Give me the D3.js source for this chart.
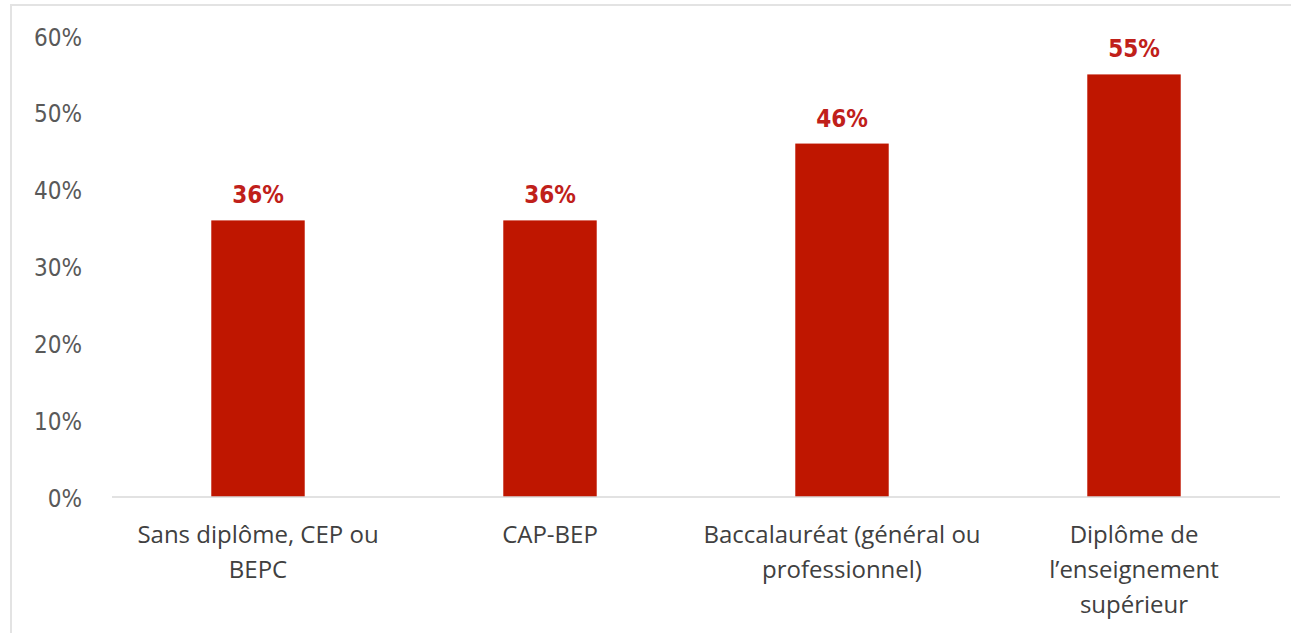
<!DOCTYPE html>
<html>
<head>
<meta charset="utf-8">
<script src="https://cdn.jsdelivr.net/npm/d3@7"></script>
<style>
  html, body { margin: 0; padding: 0; background: #fff; }
  svg { display: block; }
</style>
</head>
<body>
<svg id="chart" width="1291" height="633"></svg>
<script>
const categories = [
  "Sans diplôme, CEP ou\nBEPC",
  "CAP-BEP",
  "Baccalauréat (général ou\nprofessionnel)",
  "Diplôme de\nl’enseignement\nsupérieur"
];
const values = [36, 36, 46, 55];
const yTicks = [0, 10, 20, 30, 40, 50, 60];

const svg = d3.select("#chart");
const W = 1291, H = 633;
const margin = { left: 112, right: 11, top: 36, bottom: 136 };

// frame
svg.append("path")
  .attr("d", `M11,${H} V5 H${W}`)
  .attr("fill", "none")
  .attr("stroke", "#e3e3e3")
  .attr("stroke-width", 2);

const x = d3.scaleBand()
  .domain(categories)
  .range([margin.left, W - margin.right])
  .paddingInner(0.68)
  .paddingOuter(0.34);

const y = d3.scaleLinear()
  .domain([0, 60])
  .range([H - margin.bottom, margin.top]);

// y axis labels
const yAxis = d3.axisLeft(y)
  .tickValues(yTicks)
  .tickFormat(d => d + "%")
  .tickSize(0)
  .tickPadding(0);
const gy = svg.append("g")
  .attr("transform", "translate(82,0)")
  .call(yAxis);
gy.select(".domain").remove();
gy.selectAll("text")
  .attr("fill", "#595959")
  .attr("font-family", "'DejaVu Sans Condensed', 'DejaVu Sans', sans-serif")
  .attr("font-size", 24)
  .attr("dy", "0.38em");

// bars
svg.append("g").selectAll("rect")
  .data(values)
  .join("rect")
  .attr("x", (d, i) => x(categories[i]))
  .attr("y", d => y(d))
  .attr("width", x.bandwidth())
  .attr("height", d => y(0) - y(d))
  .attr("fill", "#bf1600");

// baseline
svg.append("line")
  .attr("x1", margin.left)
  .attr("x2", W - margin.right)
  .attr("y1", y(0))
  .attr("y2", y(0))
  .attr("stroke", "#d9d9d9")
  .attr("stroke-width", 1.5);

// value labels
svg.append("g").selectAll("text")
  .data(values)
  .join("text")
  .attr("x", (d, i) => x(categories[i]) + x.bandwidth() / 2)
  .attr("y", d => y(d) - 17)
  .attr("text-anchor", "middle")
  .attr("fill", "#c0201a")
  .attr("font-family", "'DejaVu Sans Condensed', 'DejaVu Sans', sans-serif")
  .attr("font-weight", "bold")
  .attr("font-size", 24)
  .text(d => d + "%");

// category labels
const xAxis = d3.axisBottom(x).tickSize(0).tickFormat("");
const gx = svg.append("g")
  .attr("transform", `translate(0,${y(0)})`)
  .call(xAxis);
gx.select(".domain").remove();
gx.selectAll(".tick").each(function(d) {
  const t = d3.select(this).append("text")
    .attr("text-anchor", "middle")
    .attr("fill", "#404040")
    .attr("font-family", "'Open Sans', sans-serif")
    .attr("font-size", 24);
  d.split("\n").forEach((line, i) => {
    t.append("tspan")
      .attr("x", 0)
      .attr("y", 46 + i * 35)
      .text(line);
  });
});
</script>
</body>
</html>
